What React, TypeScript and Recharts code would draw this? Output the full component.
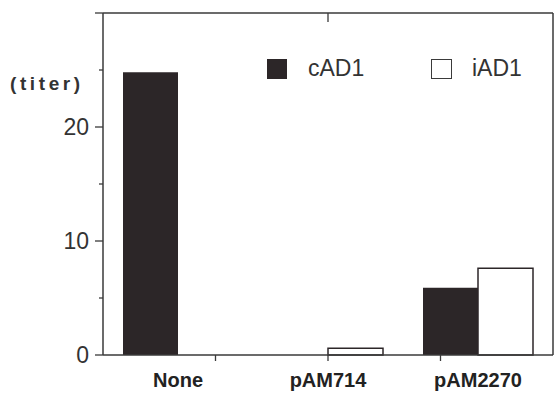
import { BarChart, Bar, XAxis, YAxis, Legend, ReferenceLine } from 'recharts'

const categories = ['None', 'pAM714', 'pAM2270']
const cAD1 = [24.8, 0, 5.9]
const iAD1 = [0, 0.6, 7.6]
const yTicks = [0, 5, 10, 15, 20, 25, 30]

const DARK = '#2c2628'
const AXIS = '#3a3a3a'
const FONT = '"Liberation Sans", Arial, sans-serif'
const PLOT_W = 450

const data = categories.map((name, i) => ({ name, cAD1: cAD1[i], iAD1: iAD1[i] }))

function YTick({ x, y, payload }: any) {
  const v = payload.value
  const major = v % 10 === 0
  return (
    <g>
      <line x1={x - (major ? 8 : 4)} x2={x} y1={y} y2={y} stroke={AXIS} strokeWidth={1.3} />
      {major && v < 30 && (
        <text x={x - 14} y={y} dy={8} textAnchor="end" fontSize={23} fill="#333" fontFamily={FONT}>
          {v}
        </text>
      )}
    </g>
  )
}

// the original's x tick marks sit at quarters of the axis, not at the category centres
function XTick({ x, y, payload, index }: any) {
  const tx = x + (1 - index) * (PLOT_W / 12)
  return (
    <g>
      <line x1={tx} x2={tx} y1={y} y2={y + 6} stroke={AXIS} strokeWidth={1.3} />
      <text x={x} y={y} dy={32} textAnchor="middle" fontSize={20} fontWeight="bold" fill="#222" fontFamily={FONT}>
        {payload.value}
      </text>
    </g>
  )
}

function LegendBox() {
  return (
    <div style={{ display: 'flex', alignItems: 'center', fontFamily: FONT, fontSize: 23, color: '#333' }}>
      <div style={{ width: 20, height: 20, background: DARK }} />
      <span style={{ marginLeft: 21, width: 123 }}>cAD1</span>
      <div style={{ width: 19, height: 18, border: `1.5px solid ${AXIS}`, background: '#fff' }} />
      <span style={{ marginLeft: 20 }}>iAD1</span>
    </div>
  )
}

export default function App() {
  return (
    <div style={{ position: 'absolute', left: 0, top: 0, width: 554, height: 395, background: '#fff' }}>
      <BarChart
        width={554}
        height={395}
        data={data}
        margin={{ top: 12, right: 0, left: 0, bottom: 0 }}
        barCategoryGap={20}
        barGap={0}
      >
        <XAxis
          xAxisId="cat"
          dataKey="name"
          height={40}
          interval={0}
          axisLine={{ stroke: AXIS, strokeWidth: 1.5 }}
          tickLine={false}
          tickSize={0}
          tickMargin={0}
          tick={<XTick />}
        />
        <XAxis
          xAxisId="top"
          orientation="top"
          type="number"
          domain={[0, 4]}
          height={1}
          axisLine={{ stroke: AXIS, strokeWidth: 1.5 }}
          tickLine={false}
          tick={false}
        />
        <YAxis
          width={103}
          domain={[0, 30]}
          ticks={yTicks}
          interval={0}
          axisLine={{ stroke: AXIS, strokeWidth: 1.5 }}
          tickLine={false}
          tickSize={0}
          tickMargin={0}
          tick={<YTick />}
          label={{
            content: () => (
              <text x={10} y={90} fontSize={19} fontWeight="bold" letterSpacing={3.6} fill="#333" fontFamily={FONT}>
                (titer)
              </text>
            ),
          }}
        />
        <YAxis
          yAxisId="r"
          orientation="right"
          width={1}
          domain={[0, 30]}
          axisLine={{ stroke: AXIS, strokeWidth: 1.5 }}
          tick={false}
          tickLine={false}
        />
        <Legend
          layout="horizontal"
          verticalAlign="middle"
          align="center"
          wrapperStyle={{ position: 'absolute', left: 267, top: 55, width: 'auto' }}
          content={() => <LegendBox />}
        />
        <ReferenceLine
          xAxisId="cat"
          segment={[{ x: 'pAM714', y: 30 }, { x: 'pAM714', y: 29.2 }]}
          stroke={AXIS}
          strokeWidth={1.3}
        />
        <Bar xAxisId="cat" dataKey="cAD1" fill={DARK} isAnimationActive={false} />
        <Bar xAxisId="cat" dataKey="iAD1" fill="#fff" stroke={DARK} strokeWidth={1.5} isAnimationActive={false} />
      </BarChart>
    </div>
  )
}
